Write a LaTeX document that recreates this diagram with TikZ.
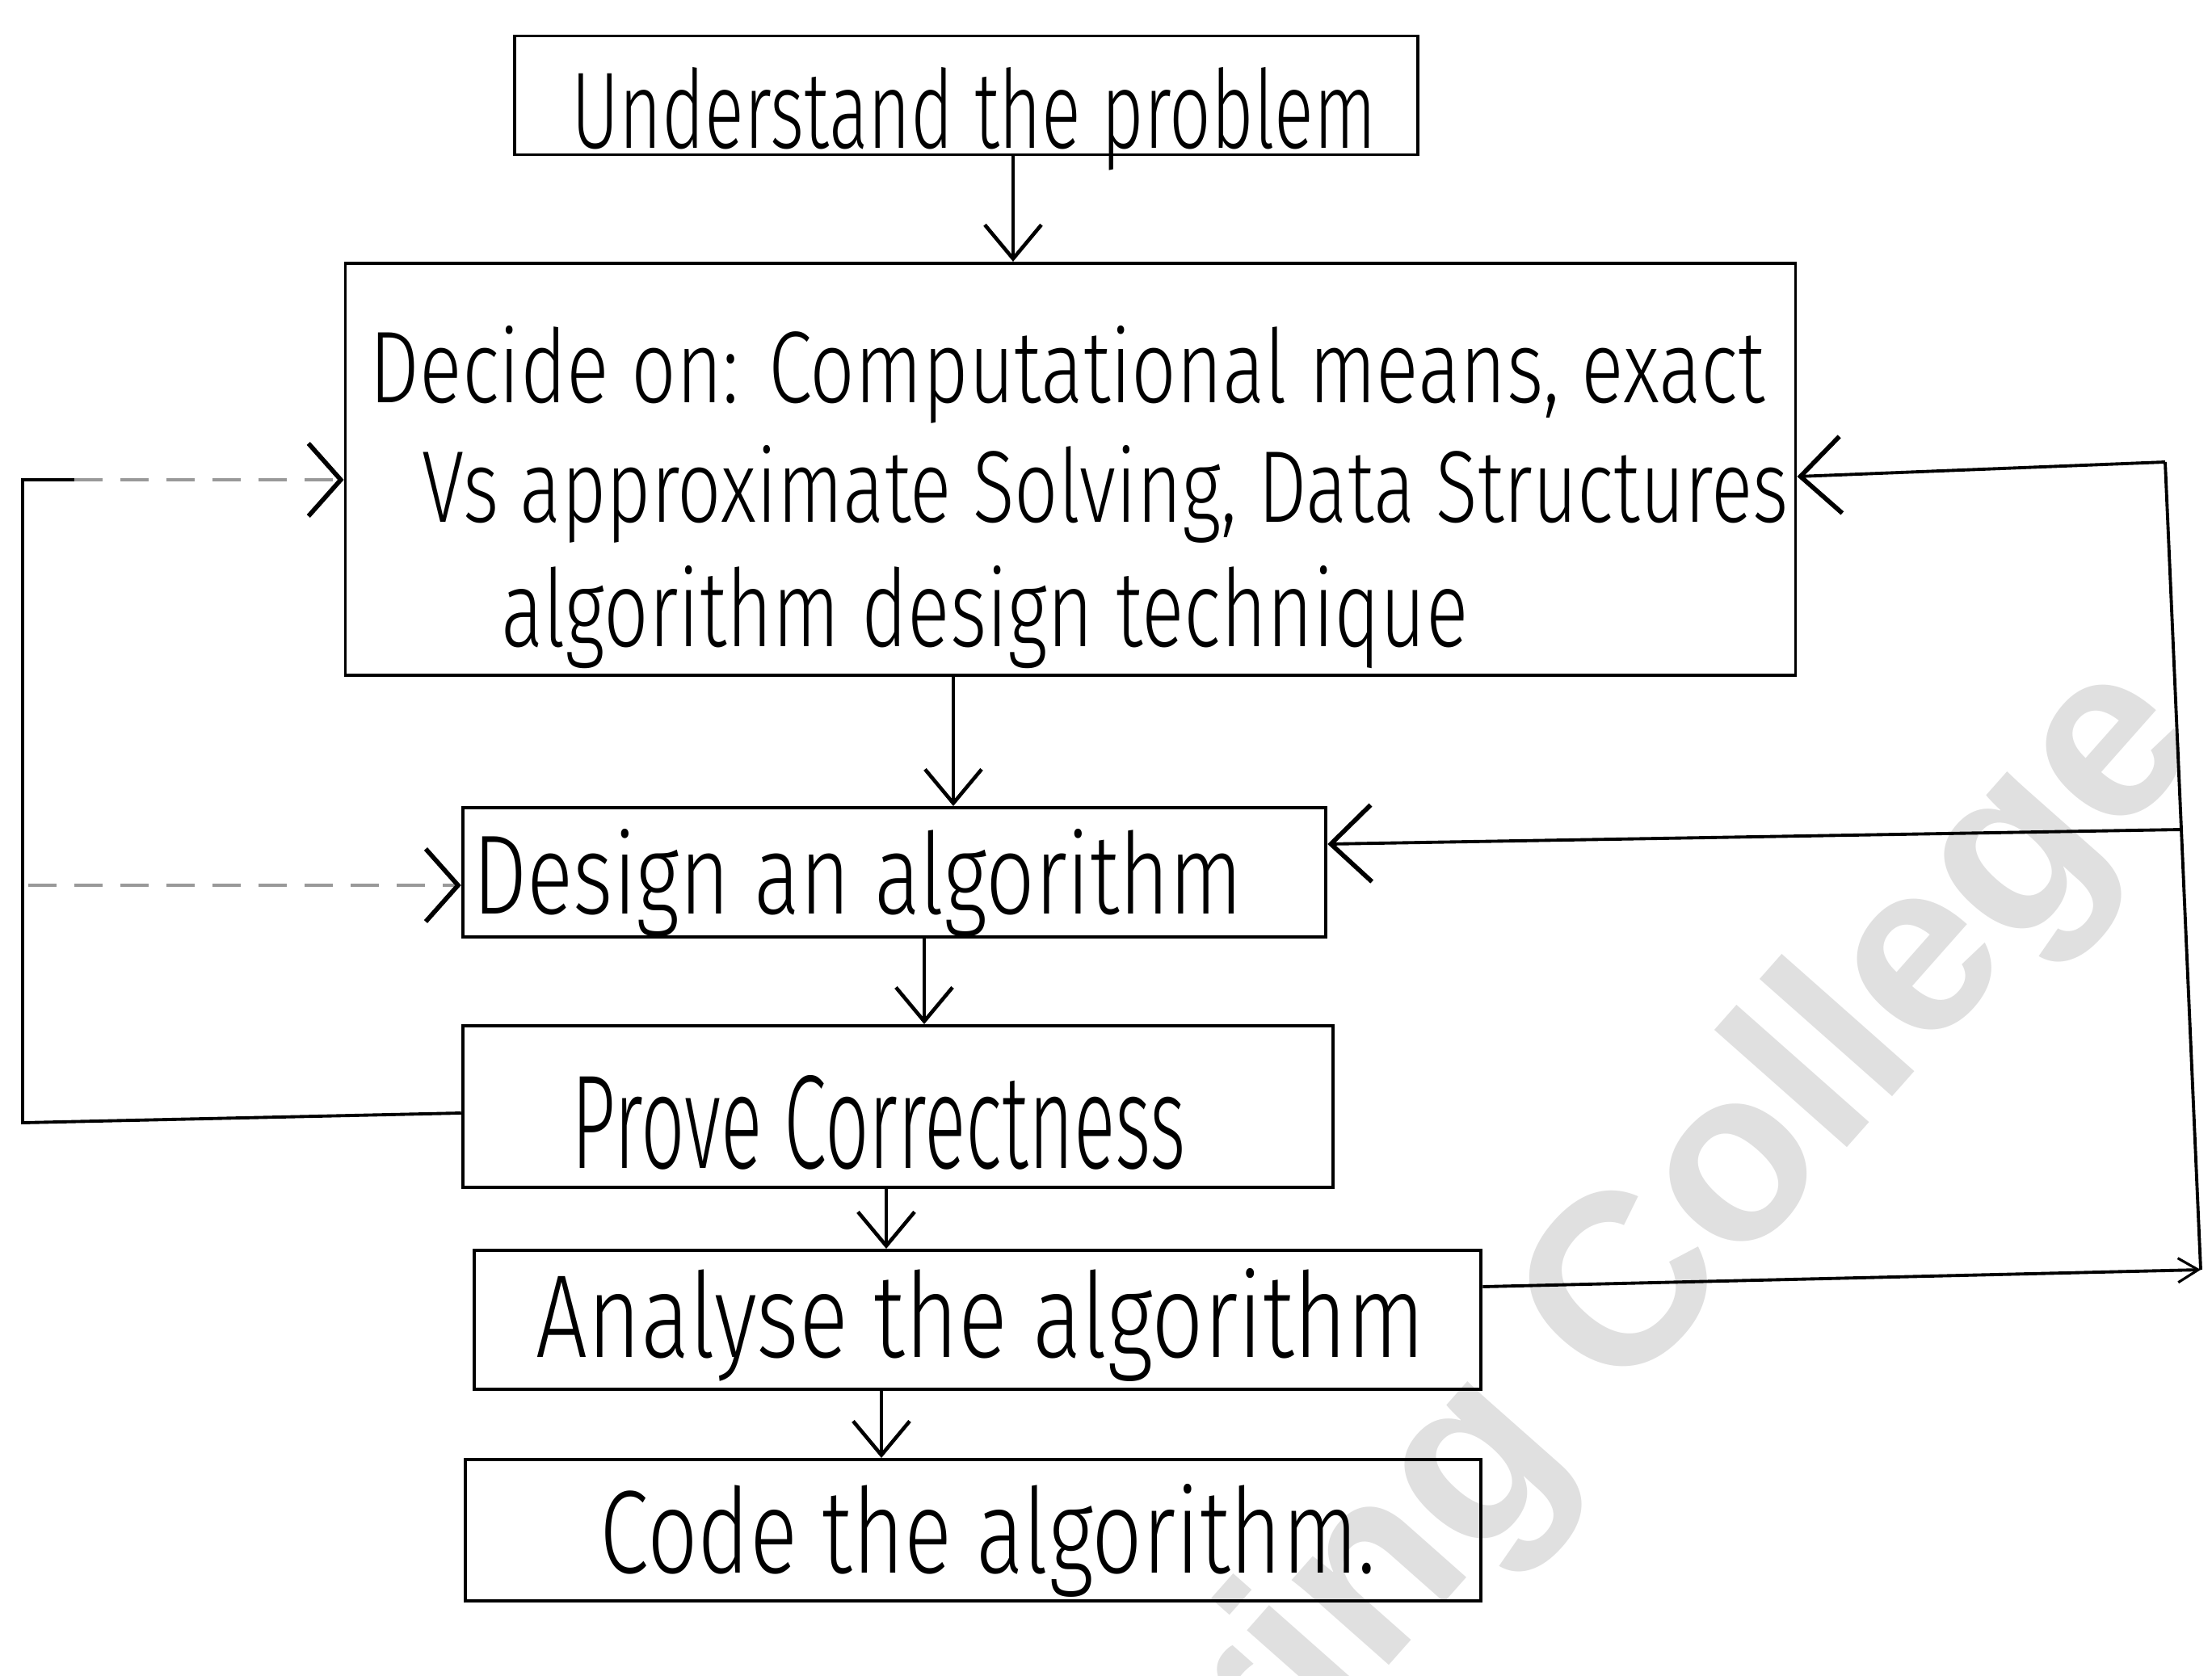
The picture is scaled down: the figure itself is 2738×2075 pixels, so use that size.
\documentclass[tikz,border=0pt]{standalone}
\usepackage{fontspec}
\setmainfont{Fira Sans}[UprightFont=* Light]
\newfontfamily\wmfont{Liberation Sans}
\usetikzlibrary{arrows.meta}
\definecolor{wmgray}{RGB}{224,224,224}
\tikzset{
  box/.style={draw, line width=1.1pt, inner sep=0pt},
  txt/.style={inner sep=0pt, anchor=base west},
  conn/.style={line width=1.1pt},
  downarr/.style={conn, -{Straight Barb[length=0.42cm,width=0.7cm,line width=1.3pt]}},
  sidearr/.style={conn, -{Straight Barb[length=0.5cm,width=0.95cm,line width=1.6pt]}},
  faintarr/.style={line width=0.9pt, draw=black!40, dash pattern=on 0.35cm off 0.22cm,
    -{Straight Barb[length=0.4cm,width=0.9cm,line width=1.6pt,color=black]}},
  wmark/.style={inner sep=0pt, text=wmgray, font=\wmfont\bfseries\fontsize{86}{90}\selectfont},
}
\newcommand\hw[3]{\resizebox{#1}{#2}{#3}}
\begin{document}
\begin{tikzpicture}[x=0.01cm, y=-0.01cm]
\useasboundingbox (0,0) rectangle (2738,2075);
\fill[white] (0,0) rectangle (2738,2075);
% watermark
\begin{scope}
  \clip (0,0) rectangle (2738,2075);
  \node[wmark, rotate=48.5, anchor=east] (wm) at (2672,868) {ring College};
\end{scope}
% boxes
\node[box, minimum width=11.18cm, minimum height=1.47cm] (b1) at (1196,118) {};
\node[box, minimum width=17.94cm, minimum height=5.10cm] (b2) at (1325,581) {};
\node[box, minimum width=10.68cm, minimum height=1.60cm] (b3) at (1107,1080) {};
\node[box, minimum width=10.77cm, minimum height=2.00cm] (b4) at (1111.5,1370) {};
\node[box, minimum width=12.46cm, minimum height=1.72cm] (b5) at (1210,1634) {};
\node[box, minimum width=12.57cm, minimum height=1.75cm] (b6) at (1204.5,1894.5) {};
% texts
\node[txt] (t1) at (707,183) {\hw{9.95cm}{1.0cm}{Understand the problem}};
\node[txt] (t2) at (457,498) {\hw{17.26cm}{0.95cm}{Decide on: Computational means, exact}};
\node[txt] (t3) at (522,646) {\hw{16.9cm}{0.95cm}{Vs approximate Solving, Data Structures}};
\node[txt] (t4) at (620,800) {\hw{11.96cm}{1.0cm}{algorithm design technique}};
\node[txt] (t5) at (585,1131) {\hw{9.52cm}{1.05cm}{Design an algorithm}};
\node[txt] (t6) at (707,1446) {\hw{7.6cm}{1.15cm}{Prove Correctness}};
\node[txt] (t7) at (663,1680) {\hw{11.0cm}{1.1cm}{Analyse the algorithm}};
\node[txt] (t8) at (742,1947) {\hw{9.6cm}{1.1cm}{Code the algorithm.}};
% helper coordinates
\coordinate (x1) at (1254,0);
\coordinate (x2) at (1180,0);
\coordinate (x3) at (1144,0);
\coordinate (x4) at (1097,0);
\coordinate (x5) at (1091,0);
% downward arrows
\draw[downarr] (b1.south -| x1) -- (b2.north -| x1);
\draw[downarr] (b2.south -| x2) -- (b3.north -| x2);
\draw[downarr] (b3.south -| x3) -- (b4.north -| x3);
\draw[downarr] (b4.south -| x4) -- (b5.north -| x4);
\draw[downarr] (b5.south -| x5) -- (b6.north -| x5);
% left feedback loop
\coordinate (yl4) at (0,1378);
\coordinate (lb) at (28,1390);
\coordinate (lt) at (28,594);
\coordinate (lts) at (92,594);
\coordinate (lm) at (35,1096);
\draw[conn] (b4.west |- yl4) -- (lb) -- (lt) -- (lts);
\draw[faintarr] (lts) -- (b2.west |- lt);
\draw[faintarr] (lm) -- (b3.west |- lm);
% right feedback loop
\coordinate (r5) at (0,1593);
\coordinate (rb) at (2724,1572);
\coordinate (rt) at (2680,572);
\coordinate (r2) at (0,590);
\coordinate (rm) at (2700,1027);
\coordinate (r3) at (0,1045);
\draw[conn, -{Straight Barb[length=0.25cm,width=0.3cm,line width=0.9pt]}] (b5.east |- r5) -- (rb);
\draw[conn] (rb) -- (rt);
\draw[sidearr] (rt) -- (b2.east |- r2);
\draw[sidearr] (rm) -- (b3.east |- r3);
\end{tikzpicture}
\end{document}
